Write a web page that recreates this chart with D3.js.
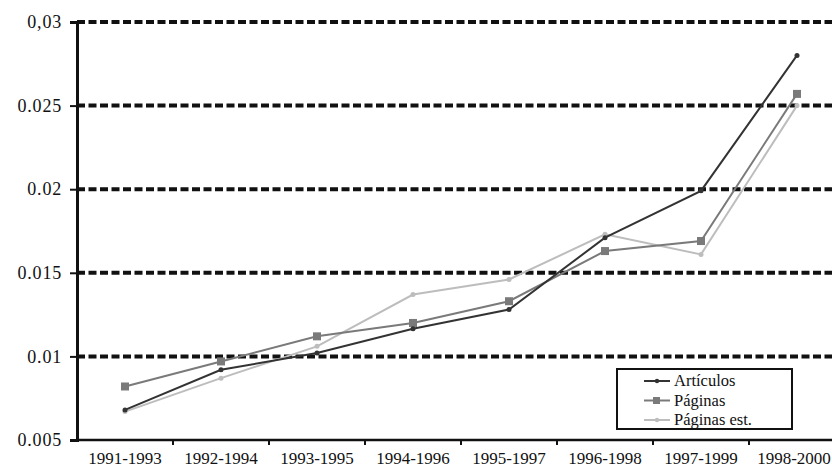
<!DOCTYPE html>
<html>
<head>
<meta charset="utf-8">
<script src="https://cdn.jsdelivr.net/npm/d3@7"></script>
<style>
  html, body { margin: 0; padding: 0; background: #fff; }
  svg { display: block; font-family: "Liberation Serif", "DejaVu Serif", serif; }
</style>
</head>
<body>
<svg id="chart" width="832" height="469"></svg>
<script>
// ─── data ───────────────────────────────────────
const PERIODS = ["1991-1993","1992-1994","1993-1995","1994-1996",
                 "1995-1997","1996-1998","1997-1999","1998-2000"];
const ARTICULOS   = [0.0068, 0.0092, 0.0102, 0.01165, 0.0128, 0.0171, 0.0199, 0.0280];
const PAGINAS     = [0.0082, 0.0097, 0.0112, 0.0120, 0.0133, 0.0163, 0.0169, 0.0257];
const PAGINAS_EST = [0.0067, 0.0087, 0.0106, 0.0137, 0.0146, 0.0173, 0.0161, 0.0250];
const Y_TICKS  = [0.005, 0.01, 0.015, 0.02, 0.025, 0.03];
const Y_LABELS = ["0.005", "0.01", "0.015", "0.02", "0.025", "0,03"];

const SERIES = [
  { name: "Artículos",    values: ARTICULOS,   color: "#333333", marker: "circle" },
  { name: "Páginas",      values: PAGINAS,     color: "#7a7a7a", marker: "square" },
  { name: "Páginas est.", values: PAGINAS_EST, color: "#bdbdbd", marker: "circle" }
];

const svg = d3.select("#chart");
const M = { left: 77, top: 22, bottom: 440 };

const x = d3.scaleBand().domain(PERIODS).range([M.left, M.left + 8 * 96]).padding(0);
const y = d3.scaleLinear().domain([0.005, 0.03]).range([M.bottom, M.top]);

// dashed grid lines
svg.append("g")
  .selectAll("line")
  .data(Y_TICKS.slice(1))
  .join("line")
    .attr("x1", M.left).attr("x2", 832)
    .attr("y1", d => y(d)).attr("y2", d => y(d))
    .attr("stroke", "#111")
    .attr("stroke-width", 4)
    .attr("stroke-dasharray", "8,3.5");

// y axis
const yAxis = d3.axisLeft(y)
  .tickValues(Y_TICKS)
  .tickFormat((d, i) => Y_LABELS[i])
  .tickSize(7)
  .tickPadding(8);
const gy = svg.append("g").attr("transform", `translate(${M.left},0)`).call(yAxis);
gy.attr("font-family", null).attr("font-size", null);
gy.select(".domain").attr("stroke", "#111").attr("stroke-width", 3);
gy.selectAll(".tick line").attr("stroke", "#111").attr("stroke-width", 2);
gy.selectAll(".tick text")
  .style("font-size", "18px")
  .style("letter-spacing", "0.8px")
  .attr("fill", "#111");

// x axis (ticks between categories)
svg.append("line")
  .attr("x1", M.left).attr("x2", 832)
  .attr("y1", M.bottom).attr("y2", M.bottom)
  .attr("stroke", "#111").attr("stroke-width", 2.5);
svg.append("g")
  .selectAll("line")
  .data(PERIODS.slice(1))
  .join("line")
    .attr("x1", d => x(d)).attr("x2", d => x(d))
    .attr("y1", M.bottom).attr("y2", M.bottom + 5)
    .attr("stroke", "#111").attr("stroke-width", 2);
svg.append("g")
  .selectAll("text")
  .data(PERIODS)
  .join("text")
    .attr("x", d => Math.min(x(d) + x.bandwidth() / 2, 794))
    .attr("y", 464)
    .attr("text-anchor", "middle")
    .style("font-size", "17px")
    .attr("fill", "#111")
    .text(d => d);

// series lines
const line = d3.line()
  .x((d, i) => x(PERIODS[i]) + x.bandwidth() / 2)
  .y(d => y(d));

// draw light first so darker lines sit on top
[...SERIES].reverse().forEach(s => {
  const g = svg.append("g");
  g.append("path")
    .datum(s.values)
    .attr("d", line)
    .attr("fill", "none")
    .attr("stroke", s.color)
    .attr("stroke-width", 2);
  if (s.marker === "square") {
    g.selectAll("rect")
      .data(s.values)
      .join("rect")
        .attr("x", (d, i) => x(PERIODS[i]) + x.bandwidth() / 2 - 4)
        .attr("y", d => y(d) - 4)
        .attr("width", 8).attr("height", 8)
        .attr("fill", s.color);
  } else {
    g.selectAll("circle")
      .data(s.values)
      .join("circle")
        .attr("cx", (d, i) => x(PERIODS[i]) + x.bandwidth() / 2)
        .attr("cy", d => y(d))
        .attr("r", 2.5)
        .attr("fill", s.color);
  }
});

// legend
const lg = svg.append("g").attr("transform", "translate(617,369)");
lg.append("rect")
  .attr("width", 175).attr("height", 60)
  .attr("fill", "#fff")
  .attr("stroke", "#111").attr("stroke-width", 2);
SERIES.forEach((s, i) => {
  const ry = 12 + i * 19.5;
  lg.append("line")
    .attr("x1", 27).attr("x2", 53)
    .attr("y1", ry).attr("y2", ry)
    .attr("stroke", s.color).attr("stroke-width", 2);
  if (s.marker === "square") {
    lg.append("rect").attr("x", 36).attr("y", ry - 3.5).attr("width", 7).attr("height", 7).attr("fill", s.color);
  } else {
    lg.append("circle").attr("cx", 40).attr("cy", ry).attr("r", 2.2).attr("fill", s.color);
  }
  lg.append("text")
    .attr("x", 57).attr("y", ry + 5)
    .style("font-size", "16.5px")
    .attr("fill", "#111")
    .text(s.name);
});
</script>
</body>
</html>
